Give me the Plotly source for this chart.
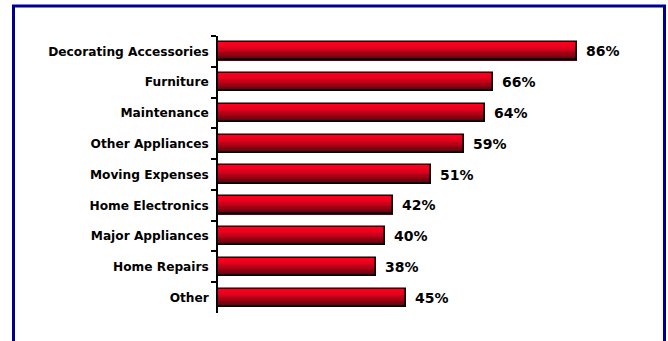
import plotly.graph_objects as go

categories = ["Decorating Accessories", "Furniture", "Maintenance", "Other Appliances",
              "Moving Expenses", "Home Electronics", "Major Appliances", "Home Repairs", "Other"]
values = [86, 66, 64, 59, 51, 42, 40, 38, 45]
value_labels = ["86%", "66%", "64%", "59%", "51%", "42%", "40%", "38%", "45%"]

W, H = 668, 341
L, R, T, B = 218, 33, 36, 28
pw, ph = W - L - R, H - T - B

def px_x(p):
    return (p - L) / pw

def px_y(p):
    return (H - B - p) / ph

BAR_W = 0.59
N = 14

def lerp(c1, c2, t):
    return tuple(round(a + (b - a) * t) for a, b in zip(c1, c2))

top_c = (255, 0, 32)
mid_c = (235, 0, 28)
bot_c = (90, 0, 10)

fig = go.Figure()
for i in range(N):
    f = (i + 0.5) / N
    if f < 0.3:
        c = lerp(top_c, mid_c, f / 0.3)
    else:
        c = lerp(mid_c, bot_c, (f - 0.3) / 0.7)
    fig.add_trace(go.Bar(
        x=values, y=categories, orientation="h",
        width=BAR_W / N * 1.08, offset=-BAR_W / 2 + i * BAR_W / N,
        marker=dict(color="rgb(%d,%d,%d)" % c, line=dict(width=0)),
        hoverinfo="skip", showlegend=False,
    ))

fig.add_trace(go.Bar(
    x=values, y=categories, orientation="h",
    width=BAR_W, offset=-BAR_W / 2,
    marker=dict(color="rgba(0,0,0,0)", line=dict(color="black", width=1.6)),
    showlegend=False,
))

for v, c, lab in zip(values, categories, value_labels):
    fig.add_annotation(x=v, y=c, text=lab, showarrow=False, xanchor="left",
                       xshift=7, yshift=0,
                       font=dict(family="DejaVu Sans", size=14, color="black", weight="bold"))

fig.add_shape(type="rect", xref="paper", yref="paper",
              x0=px_x(13.5), x1=px_x(664.5), y0=px_y(346), y1=px_y(6),
              line=dict(color="#000090", width=3), fillcolor="rgba(0,0,0,0)", layer="above")

fig.update_layout(
    width=W, height=H, margin=dict(l=L, r=R, t=T, b=B, autoexpand=False),
    barmode="overlay", paper_bgcolor="white", plot_bgcolor="white",
    bargap=0,
    xaxis=dict(range=[0, 100], visible=False, fixedrange=True),
    yaxis=dict(autorange="reversed", showline=True, linecolor="black", linewidth=1.5,
               ticks="outside", ticklen=5, tickwidth=1.5, tickcolor="black",
               tickson="boundaries", showgrid=False, ticklabelstandoff=5,
               tickfont=dict(family="DejaVu Sans", size=12.2, color="black", weight="bold")),
)

fig.write_html("out.html")
